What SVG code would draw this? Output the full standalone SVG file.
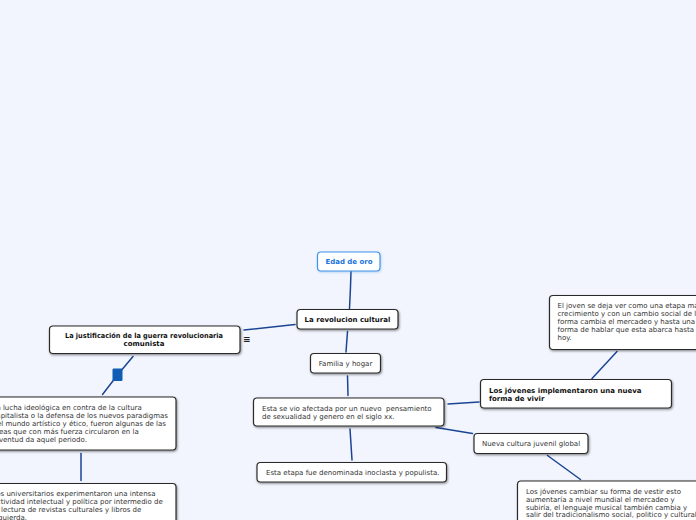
<svg xmlns="http://www.w3.org/2000/svg" width="696" height="520" viewBox="0 0 696 520">
<defs>
<filter id="sh" x="-10%" y="-20%" width="130%" height="160%">
<feDropShadow dx="0.8" dy="1.2" stdDeviation="0.8" flood-color="#000" flood-opacity="0.45"/>
</filter>
<filter id="shl" x="-10%" y="-20%" width="130%" height="160%">
<feDropShadow dx="0.6" dy="1" stdDeviation="0.8" flood-color="#4a90e2" flood-opacity="0.35"/>
</filter>
</defs>
<style>
.box{fill:#fff;stroke:#2b2b2b;stroke-width:1.2;filter:url(#sh)}
.root{fill:#fff;stroke:#3f93ec;stroke-width:1.2;filter:url(#shl)}
text{font-family:"DejaVu Sans",Verdana,sans-serif;font-size:7px;fill:#333}
.b{font-weight:bold;fill:#111}
.rt{font-weight:bold;fill:#1a73dc}
.c{text-anchor:middle}
.ln{fill:none;stroke:#1b4593;stroke-width:1.5;stroke-linecap:round}
</style>
<rect width="696" height="520" fill="#f2f5fe"/>
<g id="connectors">
<path class="ln" d="M351,271.5 Q350.5,290 349.5,308.5"/>
<path class="ln" d="M295,324.5 L244,330"/>
<path class="ln" d="M347.5,331.5 L346,352"/>
<path class="ln" d="M347.5,376 L348,395.5"/>
<path class="ln" d="M350,429 L352,460"/>
<path class="ln" d="M448,404 L479,402"/>
<path class="ln" d="M436,427.5 L472.5,433.5"/>
<path class="ln" d="M592,378.5 L617,351.5"/>
<path class="ln" d="M547.5,455.5 L580.5,479.5"/>
<path class="ln" d="M133,356.5 L117.5,375 L102.5,394.5"/>
<path class="ln" d="M81,453.5 L81,480.5"/>
</g>
<g id="handle"><rect x="112.5" y="368.5" width="10" height="12.5" rx="1.2" fill="#0e5cb4"/></g>
<g id="n-edad">
<rect class="root" x="317.5" y="252" width="62.5" height="19" rx="3.5"/>
<text class="rt c" x="349" y="264">Edad de oro</text>
</g>
<g id="n-revolucion">
<rect class="box" x="297" y="309.5" width="101" height="19.5" rx="3.5"/>
<text class="b c" x="347.5" y="322">La revolucion cultural</text>
</g>
<g id="n-familia">
<rect class="box" x="310.5" y="353.5" width="70" height="19.5" rx="3.5"/>
<text class="c" x="345.5" y="366">Familia y hogar</text>
</g>
<g id="n-afectada">
<rect class="box" x="253.5" y="398" width="190.5" height="28" rx="3.5"/>
<text x="262" y="410.5" style="white-space:pre">Esta se vio afectada por un nuevo  pensamiento</text>
<text x="262" y="418.7">de sexualidad y genero en el siglo xx.</text>
</g>
<g id="n-etapa">
<rect class="box" x="257" y="462.5" width="189.5" height="19.5" rx="3.5"/>
<text x="266" y="475">Esta etapa fue denominada inoclasta y populista.</text>
</g>
<g id="n-justificacion">
<rect class="box" x="49.5" y="326" width="190.5" height="27.5" rx="3.5"/>
<text class="b c" x="144" y="337.8" textLength="158" lengthAdjust="spacingAndGlyphs">La justificación de la guerra revolucionaria</text>
<text class="b c" x="144" y="346">comunista</text>
<text x="243" y="342" style="font-size:9px;font-weight:bold;fill:#222">≡</text>
</g>
<g id="n-lucha">
<rect class="box" x="-20" y="397" width="196" height="53" rx="3.5"/>
<text x="-7.5" y="410.3">La lucha ideológica en contra de la cultura</text>
<text x="-7.5" y="418.2">capitalista o la defensa de los nuevos paradigmas</text>
<text x="-7.5" y="426.1">del mundo artístico y ético, fueron algunas de las</text>
<text x="-7.5" y="434">ideas que con más fuerza circularon en la</text>
<text x="-7.5" y="442">juventud da aquel periodo.</text>
</g>
<g id="n-universitarios">
<rect class="box" x="-20" y="483.5" width="196" height="60" rx="3.5"/>
<text x="-7.5" y="496">Los universitarios experimentaron una intensa</text>
<text x="-7.5" y="504">actividad intelectual y política por intermedio de</text>
<text x="-7.5" y="512">la lectura de revistas culturales y libros de</text>
<text x="-7.5" y="520">izquierda.</text>
</g>
<g id="n-joven">
<rect class="box" x="549.5" y="295.5" width="200" height="54" rx="3.5"/>
<text x="557.5" y="308.2">El joven se deja ver como una etapa más de</text>
<text x="557.5" y="316.2">crecimiento y con un cambio social de la</text>
<text x="557.5" y="324.2">forma cambia el mercadeo y hasta una</text>
<text x="557.5" y="332.2">forma de hablar que esta abarca hasta</text>
<text x="557.5" y="340.2">hoy.</text>
</g>
<g id="n-jovenes">
<rect class="box" x="480.5" y="379.5" width="191" height="28.5" rx="3.5"/>
<text class="b" x="489" y="392.5">Los jóvenes implementaron una nueva</text>
<text class="b" x="489" y="400.5">forma de vivir</text>
</g>
<g id="n-nueva">
<rect class="box" x="474" y="433.5" width="114" height="20" rx="3.5"/>
<text class="c" x="531" y="446">Nueva cultura juvenil global</text>
</g>
<g id="n-cambiar">
<rect class="box" x="517.5" y="481" width="220" height="60" rx="3.5"/>
<text x="526" y="494">Los jóvenes cambiar su forma de vestir esto</text>
<text x="526" y="501.8">aumentaría a nivel mundial el mercadeo y</text>
<text x="526" y="509.6">subiría, el lenguaje musical también cambia y</text>
<text x="526" y="517.4">salir del tradicionalismo social, politico y cultural</text>
</g>
</svg>
